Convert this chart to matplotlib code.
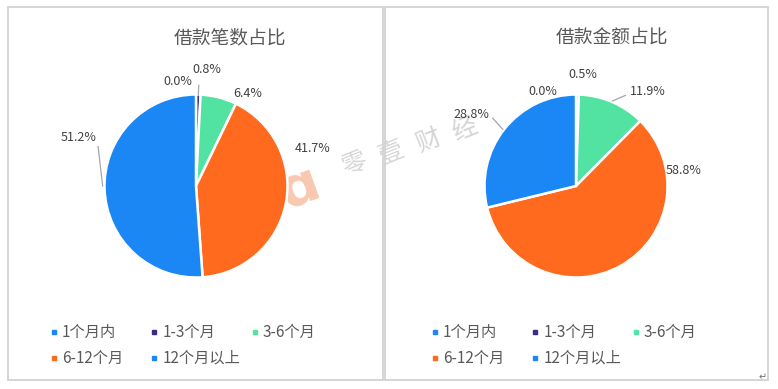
import matplotlib
matplotlib.use('Agg')
import matplotlib.pyplot as plt
from matplotlib.patches import Rectangle
from matplotlib.lines import Line2D

plt.rcParams['font.family'] = ['Noto Sans CJK SC', 'DejaVu Sans']

# ---------------- data ----------------
categories = ['1个月内', '1-3个月', '3-6个月', '6-12个月', '12个月以上']
count_share = [0.0, 0.8, 6.4, 41.7, 51.2]      # 借款笔数占比 (%)
amount_share = [0.0, 0.5, 11.9, 58.8, 28.8]    # 借款金额占比 (%)
titles = ['借款笔数占比', '借款金额占比']
watermark = '零壹财经'

# ---------------- style ----------------
colors = ['#1A87F5', '#3D2A8C', '#52E3A3', '#FF6A1F', '#1A87F5']
text_col = '#595959'
label_col = '#404040'

W, H = 778, 389
fig = plt.figure(figsize=(W / 100, H / 100), dpi=100)
bg = fig.add_axes([0, 0, 1, 1], zorder=0)
bg.set_xlim(0, W)
bg.set_ylim(H, 0)
bg.axis('off')

# panel boxes
bg.add_patch(Rectangle((8, 7), 375, 373, fill=False, edgecolor='#D2D2D2', lw=1.3))
bg.add_patch(Rectangle((385, 7), 383, 373, fill=False, edgecolor='#D2D2D2', lw=1.3))

# watermark
for i, ch in enumerate(watermark):
    bg.text(354 + i * 37, 164 - i * 11.5, ch, fontsize=18, color='#D6D6D6',
            rotation=22, ha='center', va='center', zorder=0)
bg.text(300, 188, 'ɑ', fontsize=40, fontweight='bold', color='#F8C8B0',
        rotation=20, ha='center', va='center', family='DejaVu Sans', zorder=0)

# paragraph mark
bg.text(763, 377, '↵', fontsize=7, color='#707070', ha='center', va='center',
        family='DejaVu Sans')

panels = [
    dict(values=count_share, title=titles[0], cx=196, cy=186, r=91.5, tx=230,
         lx0=54,
         label_pos=[(-0.20, 1.14), (0.12, 1.27), (0.56, 1.01), (1.28, 0.41), (-1.28, 0.53)],
         leaders=[None, [(0.03, 1.10), (0.025, 0.99)], None, None,
                  [(-1.07, 0.43), (-1.02, 0.0)]]),
    dict(values=amount_share, title=titles[1], cx=576, cy=186, r=91.5, tx=612,
         lx0=435,
         label_pos=[(-0.36, 1.03), (0.07, 1.22), (0.78, 1.03), (1.18, 0.17), (-1.14, 0.78)],
         leaders=[None, None, [(0.40, 0.93), (0.54, 0.99)], None,
                  [(-0.80, 0.62), (-0.91, 0.74)]]),
]

for p in panels:
    cx, cy, r = p['cx'], p['cy'], p['r']
    ax = fig.add_axes([(cx - r) / W, 1 - (cy + r) / H, 2 * r / W, 2 * r / H], zorder=2)
    ax.pie(p['values'], colors=colors, startangle=90, counterclock=False,
           radius=1.0, wedgeprops=dict(edgecolor='white', linewidth=1.8))
    ax.set_xlim(-1, 1)
    ax.set_ylim(-1, 1)
    ax.set_aspect('auto')
    ax.axis('off')
    for v, (lx, ly), ld in zip(p['values'], p['label_pos'], p['leaders']):
        ax.text(lx, ly, f'{v:.1f}%', fontsize=9, color=label_col,
                ha='center', va='center', clip_on=False)
        if ld is not None:
            ax.add_line(Line2D([ld[0][0], ld[1][0]], [ld[0][1], ld[1][1]],
                               color='#A6A6A6', lw=0.9, clip_on=False))
    # title
    bg.text(p['tx'], 38, p['title'], fontsize=13.5, color=text_col,
            ha='center', va='center')
    # legend
    for i, (cat, col) in enumerate(zip(categories, colors)):
        row, c = divmod(i, 3)
        x = p['lx0'] + c * 100.5
        y = 332 + row * 26
        bg.plot([x], [y], marker='s', markersize=3.2, color=col, lw=0)
        bg.text(x + 8, y, cat, fontsize=11, color=text_col, ha='left', va='center')

fig.savefig('out.png', dpi=100)
